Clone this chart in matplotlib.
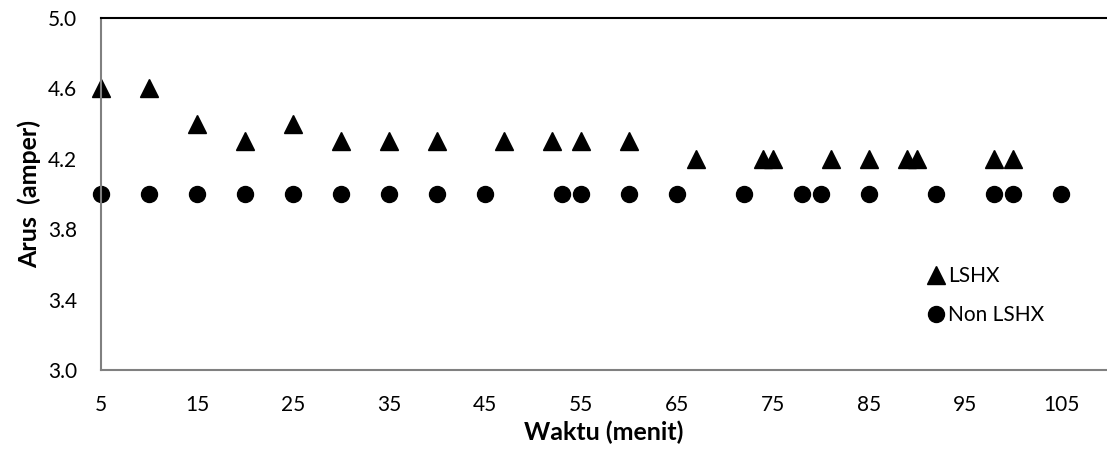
import matplotlib
matplotlib.use("Agg")
import matplotlib.pyplot as plt

plt.rcParams['font.family'] = ['Lato', 'DejaVu Sans']

lshx_x = [5, 10, 15, 20, 25, 30, 35, 40, 47, 52, 55, 60, 67, 74, 75, 81, 85, 89, 90, 98, 100]
lshx_y = [4.6, 4.6, 4.4, 4.3, 4.4, 4.3, 4.3, 4.3, 4.3, 4.3, 4.3, 4.3, 4.2, 4.2, 4.2, 4.2, 4.2, 4.2, 4.2, 4.2, 4.2]
non_x = [5, 10, 15, 20, 25, 30, 35, 40, 45, 53, 55, 60, 65, 72, 78, 80, 85, 92, 98, 100, 105]
non_y = [4.0] * 21
xticks = [5, 15, 25, 35, 45, 55, 65, 75, 85, 95, 105]
yticks = [3.0, 3.4, 3.8, 4.2, 4.6, 5.0]

fig = plt.figure(figsize=(11.07, 4.51), dpi=100)
ax = fig.add_axes([101/1107, 1-370/451, 1-101/1107, (370-18)/451])
ax.plot(lshx_x, lshx_y, linestyle='none', marker='^', color='black', markersize=13, clip_on=False, label='LSHX')
ax.plot(non_x, non_y, linestyle='none', marker='o', color='black', markersize=11.5, clip_on=False, label='Non LSHX')
ax.set_xlim(5, 5 + 1006/9.6)
ax.set_ylim(3.0, 5.0)
ax.set_xticks(xticks)
ax.set_xticklabels([str(t) for t in xticks])
ax.set_yticks(yticks)
ax.set_yticklabels([f"{t:.1f}" for t in yticks])
ax.tick_params(axis='both', length=0, labelsize=15)
ax.tick_params(axis='x', pad=18)
ax.tick_params(axis='y', pad=17)
for s in ['left', 'bottom']:
    ax.spines[s].set_color('#808080')
    ax.spines[s].set_linewidth(1.5)
ax.spines['top'].set_color('black')
ax.spines['top'].set_linewidth(1.5)
ax.spines['right'].set_visible(False)
ax.set_xlabel('Waktu (menit)', fontsize=18, fontweight='bold', labelpad=4)
ax.set_ylabel('Arus  (amper)', fontsize=18, fontweight='bold', labelpad=5)
leg = ax.legend(loc='upper left', bbox_to_anchor=((915-101)/1006, (370-258)/352), frameon=False,
                fontsize=15, handletextpad=0.0, labelspacing=0.9, borderaxespad=0, handlelength=1.2)
fig.savefig('out.png', dpi=100)
